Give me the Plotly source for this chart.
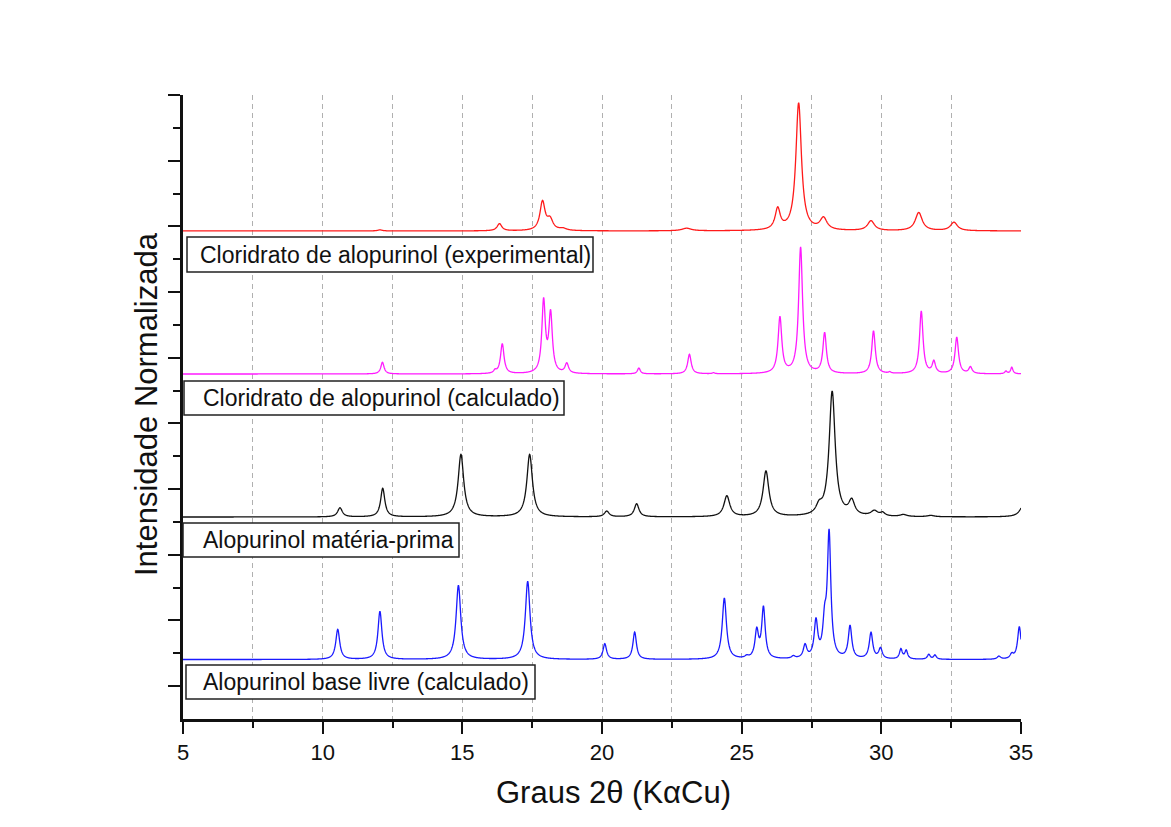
import numpy as np
import plotly.graph_objects as go

# 2θ grid for the diffractograms
two_theta = np.round(np.arange(5.0, 35.0001, 0.01), 2)

# Peak tables: position (°2θ), relative intensity (% of strongest), FWHM (°)
hcl_exp_pos = [12.05, 16.33, 17.87, 18.14, 18.60, 23.03, 26.29, 27.04, 27.93, 29.63, 31.34, 32.60]
hcl_exp_int = [0.8, 5.5, 22.0, 8.0, 1.5, 2.0, 16.0, 98.0, 9.0, 7.5, 14.0, 6.5]
hcl_exp_fwhm = [0.20, 0.20, 0.22, 0.25, 0.30, 0.40, 0.22, 0.24, 0.30, 0.30, 0.30, 0.30]

hcl_calc_pos = [12.14, 16.17, 16.43, 17.91, 18.16, 18.74, 21.32, 23.13, 23.99, 26.37, 27.11,
                27.97, 29.72, 30.30, 31.43, 31.88, 32.70, 33.19, 34.46, 34.67]
hcl_calc_int = [9.0, 2.0, 23.0, 55.0, 45.0, 7.5, 4.5, 15.0, 0.8, 43.0, 97.0,
                31.0, 33.0, 1.0, 48.0, 9.0, 28.0, 5.0, 2.0, 5.0]
hcl_calc_fwhm = [0.14, 0.12, 0.15, 0.15, 0.15, 0.15, 0.12, 0.15, 0.10, 0.16, 0.17,
                 0.15, 0.15, 0.10, 0.15, 0.14, 0.15, 0.14, 0.10, 0.10]

raw_pos = [10.62, 12.15, 14.95, 17.41, 20.17, 21.24, 24.47, 25.87, 27.77, 28.24,
           28.94, 29.75, 30.05, 30.79, 31.77, 35.10]
raw_int = [7.0, 22.0, 48.0, 48.0, 4.4, 10.0, 16.0, 35.0, 6.0, 96.0,
           11.0, 4.0, 2.5, 1.5, 1.0, 10.0]
raw_fwhm = [0.20, 0.18, 0.24, 0.24, 0.20, 0.20, 0.25, 0.25, 0.25, 0.26,
            0.25, 0.30, 0.20, 0.30, 0.30, 0.30]

base_pos = [10.54, 12.05, 14.86, 17.34, 20.10, 21.17, 24.38, 25.18, 25.54, 25.78, 26.85,
            27.27, 27.66, 27.97, 28.13, 28.88, 29.63, 29.97, 30.70, 30.89, 31.70, 31.92,
            34.21, 34.67, 34.94]
base_int = [23.0, 37.0, 57.0, 60.0, 12.0, 21.0, 47.0, 1.5, 21.0, 39.0, 1.8,
            10.0, 28.0, 24.0, 95.0, 25.0, 20.0, 8.0, 7.5, 6.5, 3.7, 3.2,
            2.3, 3.5, 25.0]
base_fwhm = [0.17, 0.17, 0.20, 0.20, 0.15, 0.15, 0.18, 0.15, 0.15, 0.15, 0.15,
             0.15, 0.15, 0.15, 0.15, 0.15, 0.15, 0.15, 0.12, 0.12, 0.12, 0.12,
             0.15, 0.15, 0.15]

series_names = [
    "Cloridrato de alopurinol (experimental)",
    "Cloridrato de alopurinol (calculado)",
    "Alopurinol matéria-prima",
    "Alopurinol base livre (calculado)",
]


def pattern(pos, inten, fwhm):
    """Sum of Lorentzian reflections on the 2θ grid (in % units)."""
    y = np.zeros_like(two_theta)
    for c, h, w in zip(pos, inten, fwhm):
        y += h / (1.0 + ((two_theta - c) / (w / 2.0)) ** 2)
    return y


# vertical stacking of the normalised patterns
offsets = [14.86, 10.505, 6.15, 1.81]
amp = 3.96 / 100.0
colors = ["#ff1a1a", "#ff1aff", "#111111", "#1a1aff"]
tables = [
    (hcl_exp_pos, hcl_exp_int, hcl_exp_fwhm),
    (hcl_calc_pos, hcl_calc_int, hcl_calc_fwhm),
    (raw_pos, raw_int, raw_fwhm),
    (base_pos, base_int, base_fwhm),
]

fig = go.Figure()
for name, (p, i, w), off, col in zip(series_names, tables, offsets, colors):
    fig.add_trace(go.Scatter(
        x=two_theta, y=off + amp * pattern(p, i, w), mode="lines", name=name,
        line=dict(color=col, width=1.3, simplify=False), showlegend=False,
    ))

W, H = 1171, 827
L, R, T, B = 183, 150, 95, 108
PW, PH = W - L - R, H - T - B


def px_x(p):
    return (p - L) / PW


def px_y(p):
    return (H - B - p) / PH


font = "Arial, Liberation Sans, sans-serif"
grid_col = "#b0b0b0"

fig.update_layout(
    width=W, height=H,
    margin=dict(l=L, r=R, t=T, b=B, autoexpand=False),
    paper_bgcolor="white", plot_bgcolor="white",
    font=dict(family=font, color="#111111"),
    xaxis=dict(
        range=[5, 35], tickvals=[5, 10, 15, 20, 25, 30, 35],
        ticks="outside", ticklen=12, tickwidth=2, tickcolor="#111111",
        showline=True, linewidth=2.5, linecolor="#111111",
        showgrid=True, gridcolor=grid_col, gridwidth=1, griddash="5px,4px",
        minor=dict(tickvals=[7.5, 12.5, 17.5, 22.5, 27.5, 32.5], ticks="outside",
                   ticklen=6, tickwidth=2, tickcolor="#111111",
                   showgrid=True, gridcolor=grid_col, gridwidth=1, griddash="5px,4px"),
        zeroline=False, tickfont=dict(family=font, size=22, color="#111111"),
    ),
    yaxis=dict(
        range=[0, 19], tickvals=list(range(1, 20, 2)), showticklabels=False,
        ticks="outside", ticklen=12, tickwidth=2, tickcolor="#111111",
        minor=dict(tickvals=list(range(2, 19, 2)), ticks="outside", ticklen=7,
                   tickwidth=2, tickcolor="#111111", showgrid=False),
        showline=True, linewidth=2.5, linecolor="#111111",
        showgrid=False, zeroline=False,
    ),
)

# axis titles
fig.add_annotation(text="Graus 2θ (KαCu)", xref="paper", yref="paper",
                   x=px_x(613), y=px_y(792), xanchor="center", yanchor="middle",
                   showarrow=False, font=dict(family=font, size=31, color="#111111"))
fig.add_annotation(text="Intensidade Normalizada", xref="paper", yref="paper",
                   x=px_x(146), y=px_y(404), xanchor="center", yanchor="middle", textangle=-90,
                   showarrow=False, font=dict(family=font, size=31, color="#111111"))

# boxed labels: (left, top, right, bottom) in pixels, text start
label_boxes = [
    (187, 237, 593, 272, 198),
    (184, 381, 564, 415, 201),
    (183, 523, 459, 557, 201),
    (186, 665, 535, 699, 201),
]
for name, (x0, y0, x1, y1, tx) in zip(series_names, label_boxes):
    fig.add_shape(type="rect", xref="paper", yref="paper",
                  x0=px_x(x0), x1=px_x(x1), y0=px_y(y1), y1=px_y(y0),
                  line=dict(color="#222222", width=1.5), fillcolor="white", layer="above")
    fig.add_annotation(text=name, xref="paper", yref="paper",
                       x=px_x(tx), y=px_y((y0 + y1) / 2), xanchor="left", yanchor="middle",
                       showarrow=False, font=dict(family=font, size=23, color="#111111"))

fig.write_html("out.html")
